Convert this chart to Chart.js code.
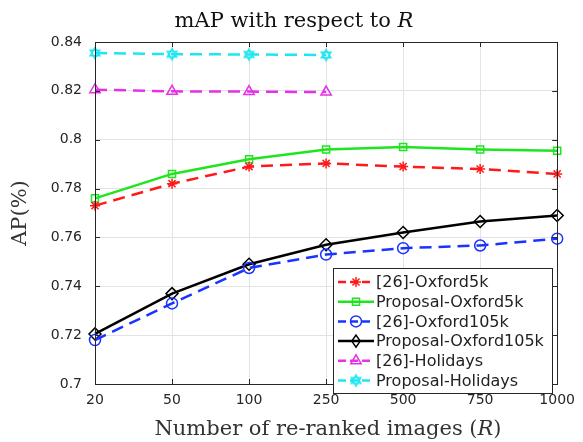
<!DOCTYPE html>
<html><head><meta charset="utf-8">
<script src="https://cdn.jsdelivr.net/npm/chart.js@4/dist/chart.umd.min.js"></script>
<style>html,body{margin:0;padding:0;background:#fff;}#wrap{width:583px;height:442px;}</style>
</head><body><div id="wrap"><canvas id="c" width="583" height="442"></canvas></div>
<script>
const categories = ['20','50','100','250','500','750','1000'];
const yTickValues = [0.7,0.72,0.74,0.76,0.78,0.8,0.82,0.84];
const seriesNames = ['[26]-Oxford5k','Proposal-Oxford5k','[26]-Oxford105k','Proposal-Oxford105k','[26]-Holidays','Proposal-Holidays'];
const ref26Oxford5k      = [0.773,0.782,0.789,0.7903,0.789,0.788,0.786];
const propOxford5k       = [0.776,0.786,0.792,0.796,0.797,0.796,0.7955];
const ref26Oxford105k    = [0.718,0.733,0.7475,0.753,0.7556,0.7567,0.7595];
const propOxford105k     = [0.7205,0.737,0.749,0.757,0.762,0.7665,0.769];
const ref26Holidays      = [0.8205,0.8198,0.8197,0.8195];
const propHolidays       = [0.8355,0.835,0.8349,0.8347];

function hexagram(color){
  const c=document.createElement('canvas');c.width=16;c.height=16;
  const g=c.getContext('2d');g.strokeStyle=color;g.lineWidth=1.5;
  for(let k=0;k<2;k++){g.beginPath();
    for(let i=0;i<3;i++){const a=-Math.PI/2+k*Math.PI+i*2*Math.PI/3;const x=8+5.5*Math.cos(a),y=8+5.5*Math.sin(a);i?g.lineTo(x,y):g.moveTo(x,y);}
    g.closePath();g.stroke();}
  return c;
}
const styles=[
 {color:'#ff1a1a',dash:[12,7],point:'star',r:5},
 {color:'#1ee61e',dash:[],point:'rect',r:5},
 {color:'#1a33ff',dash:[12,7],point:'circle',r:5.5},
 {color:'#000000',dash:[],point:'rectRot',r:6},
 {color:'#e632e6',dash:[12,7],point:'triangle',r:6},
 {color:'#1ee6f0',dash:[12,7],point:null,r:6}
];
const allData=[ref26Oxford5k,propOxford5k,ref26Oxford105k,propOxford105k,ref26Holidays,propHolidays];
const datasets=allData.map((d,i)=>({
  label:seriesNames[i],data:d,borderColor:styles[i].color,borderWidth:2.5,borderDash:styles[i].dash,
  pointStyle:styles[i].point||hexagram(styles[i].color),pointRadius:styles[i].r,pointBorderColor:styles[i].color,
  pointBackgroundColor:'rgba(0,0,0,0)',pointBorderWidth:1.5,tension:0,fill:false,clip:false
}));

function drawMarker(ctx,i,x,y){
  const s=styles[i];ctx.save();ctx.strokeStyle=s.color;ctx.lineWidth=1.5;ctx.setLineDash([]);
  ctx.beginPath();const r=s.r;
  if(s.point==='star'){for(let k=0;k<4;k++){const a=k*Math.PI/4;ctx.moveTo(x-r*Math.cos(a),y-r*Math.sin(a));ctx.lineTo(x+r*Math.cos(a),y+r*Math.sin(a));}}
  else if(s.point==='rect'){ctx.rect(x-r*0.7,y-r*0.7,r*1.4,r*1.4);}
  else if(s.point==='circle'){ctx.arc(x,y,r,0,Math.PI*2);}
  else if(s.point==='rectRot'){ctx.moveTo(x,y-r);ctx.lineTo(x+r*0.7,y);ctx.lineTo(x,y+r);ctx.lineTo(x-r*0.7,y);ctx.closePath();}
  else if(s.point==='triangle'){ctx.moveTo(x,y-r);ctx.lineTo(x+r*0.87,y+r*0.5);ctx.lineTo(x-r*0.87,y+r*0.5);ctx.closePath();}
  ctx.stroke();
  if(!s.point){ctx.drawImage(hexagram(s.color),x-8,y-8);}
  ctx.restore();
}
function mixed(ctx,parts,cx,cy,size){
  const fonts=parts.map(p=>(p[1]?'italic ':'')+size+'px "DejaVu Serif", serif');
  let w=0;const ws=parts.map((p,i)=>{ctx.font=fonts[i];const m=ctx.measureText(p[0]).width;w+=m;return m;});
  let x=cx-w/2;ctx.textBaseline='middle';ctx.textAlign='left';
  parts.forEach((p,i)=>{ctx.font=fonts[i];ctx.fillText(p[0],x,cy);x+=ws[i];});
}
const overlay={id:'overlay',afterDraw(chart){
  const ctx=chart.ctx,a=chart.chartArea,xs=chart.scales.x,ys=chart.scales.y;
  ctx.save();ctx.strokeStyle='#262626';ctx.lineWidth=1;
  ctx.strokeRect(Math.round(a.left)+0.5,Math.round(a.top)+0.5,Math.round(a.right-a.left),Math.round(a.bottom-a.top));
  ctx.beginPath();
  categories.forEach((c,i)=>{const x=Math.round(xs.getPixelForValue(i))+0.5;ctx.moveTo(x,a.bottom);ctx.lineTo(x,a.bottom-5);ctx.moveTo(x,a.top);ctx.lineTo(x,a.top+5);});
  yTickValues.forEach(v=>{const y=Math.round(ys.getPixelForValue(v))+0.5;ctx.moveTo(a.left,y);ctx.lineTo(a.left+5,y);ctx.moveTo(a.right,y);ctx.lineTo(a.right-5,y);});
  ctx.stroke();
  ctx.fillStyle='#111';
  mixed(ctx,[['mAP with respect to ',false],['R',true]],294,22,21);
  ctx.fillStyle='#333';
  mixed(ctx,[['Number of re-ranked images (',false],['R',true],[')',false]],328,430,21);
  ctx.save();ctx.translate(21,213);ctx.rotate(-Math.PI/2);mixed(ctx,[['AP(%)',false]],0,0,21);ctx.restore();
  // legend
  const lx=333,ly=268,lw=219,lh=125;
  ctx.fillStyle='#fff';ctx.fillRect(lx,ly,lw,lh);ctx.strokeStyle='#262626';ctx.lineWidth=1;ctx.strokeRect(lx+0.5,ly+0.5,lw,lh);
  ctx.font='16px "DejaVu Sans", sans-serif';ctx.textBaseline='middle';ctx.textAlign='left';
  seriesNames.forEach((n,i)=>{const y=282+i*19.7;const s=styles[i];
    ctx.save();ctx.strokeStyle=s.color;ctx.lineWidth=2.5;ctx.setLineDash(s.dash.length?[8,4]:[]);ctx.beginPath();ctx.moveTo(338,y);ctx.lineTo(374,y);ctx.stroke();ctx.restore();
    drawMarker(ctx,i,356,y);
    ctx.fillStyle='#222';ctx.fillText(n,376,y+1);});
  ctx.restore();
}};
new Chart(document.getElementById('c'),{
  type:'line',
  data:{labels:categories,datasets:datasets},
  options:{responsive:false,animation:false,devicePixelRatio:1,
    layout:{padding:{top:42,right:21,bottom:0,left:0}},
    plugins:{legend:{display:false},title:{display:false},tooltip:{enabled:false}},
    scales:{
      x:{type:'category',offset:false,grid:{color:'#e3e3e3',drawTicks:false},border:{display:false},
        ticks:{padding:8,color:'#262626',font:{family:'"DejaVu Sans"',size:14},maxRotation:0,autoSkip:false},
        afterFit(s){s.height=58;}},
      y:{min:0.7,max:0.84,grid:{color:'#e3e3e3',drawTicks:false},border:{display:false},
        afterBuildTicks(s){s.ticks=yTickValues.map(v=>({value:v}));},
        ticks:{padding:13,color:'#262626',font:{family:'"DejaVu Sans"',size:14},callback:v=>String(Number(v.toFixed(2)))},
        afterFit(s){s.width=95;}}
    }},
  plugins:[overlay]
});
</script></body></html>
